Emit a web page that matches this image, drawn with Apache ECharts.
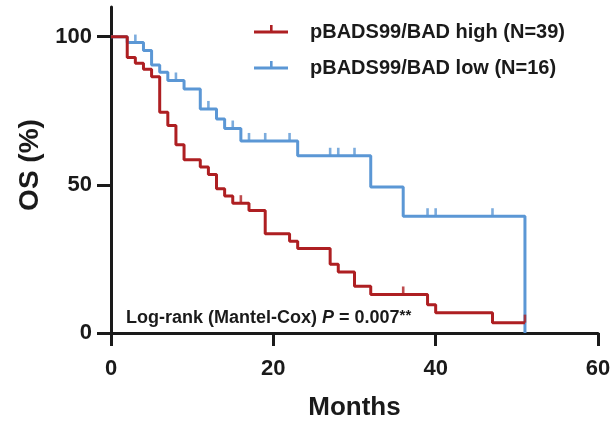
<!DOCTYPE html>
<html>
<head>
<meta charset="utf-8">
<script src="https://cdn.jsdelivr.net/npm/echarts@6/dist/echarts.min.js"></script>
<style>
html,body{margin:0;padding:0;background:#fff;}
#chart{width:613px;height:421px;}
</style>
</head>
<body>
<div id="chart"></div>
<script>
// ---- data ----
var highTimes = [0, 2, 3, 4, 5, 6, 7, 8, 9, 11, 12, 13, 14, 15, 17, 19, 22, 23, 27, 28, 30, 32, 39, 40, 47, 51];
var highSurv  = [100, 93, 91, 89, 86.5, 74.5, 70, 63.5, 58.5, 56, 53.5, 48.7, 46.2, 43.8, 41.3, 33.5, 31, 28.5, 23.2, 20.6, 15.8, 13, 9.5, 6.8, 3.5, 3.5];
var highCensorTimes = [16, 36, 51];
var highCensorSurv  = [43.8, 13, 3.5];

var lowTimes = [0, 2, 4, 5, 6, 7, 9, 11, 13, 14, 16, 23, 32, 36, 51];
var lowSurv  = [100, 98, 95.3, 90.4, 88, 85.2, 82.3, 75.6, 72.2, 69, 64.8, 59.8, 49.3, 39.4, 0];
var lowCensorTimes = [3, 8, 12, 15, 17, 19, 22, 27, 28, 30, 39, 40, 47];
var lowCensorSurv  = [98, 85.2, 75.6, 69, 64.8, 64.8, 64.8, 59.8, 59.8, 59.8, 39.4, 39.4, 39.4];

var xTicks = [0, 20, 40, 60];
var yTicks = [0, 50, 100];

var seriesNames = ['pBADS99/BAD high (N=39)', 'pBADS99/BAD low (N=16)'];
var colors = ['#AE1F22', '#5B97D5'];

function pairs(a, b) { return a.map(function (v, i) { return [v, b[i]]; }); }

var FONT = "'Liberation Sans', Arial, Helvetica, sans-serif";
var INK = '#1a1a1a';

var chart = echarts.init(document.getElementById('chart'));

function censorSeries(name, t, s, color) {
  return {
    name: name, type: 'scatter', data: pairs(t, s),
    symbol: 'rect', symbolSize: [2.6, 8], symbolOffset: [0, -4],
    itemStyle: { color: color }, silent: true, z: 3
  };
}

function legendItem(y, color, text) {
  return {
    type: 'group', children: [
      { type: 'rect', shape: { x: 254, y: y - 1.5, width: 34, height: 3 }, style: { fill: color } },
      { type: 'rect', shape: { x: 270, y: y - 7, width: 2.6, height: 7 }, style: { fill: color } },
      { type: 'text', x: 310, y: y, style: { text: text, font: 'bold 20px ' + FONT, fill: INK, textVerticalAlign: 'middle' } }
    ]
  };
}

chart.setOption({
  animation: false,
  backgroundColor: '#fff',
  grid: { left: 111, right: 15, top: 7, bottom: 88, containLabel: false, outerBoundsMode: 'none' },
  xAxis: {
    type: 'value', min: 0, max: 60, interval: 20,
    name: 'Months', nameLocation: 'middle', nameGap: 62,
    nameTextStyle: { fontSize: 26, fontWeight: 'bold', color: INK, fontFamily: FONT },
    axisLine: { lineStyle: { color: INK, width: 3 } },
    axisTick: { length: 13, lineStyle: { color: INK, width: 3 } },
    axisLabel: { fontSize: 22, fontWeight: 'bold', color: INK, fontFamily: FONT, margin: 25,
      customValues: xTicks },
    splitLine: { show: false }
  },
  yAxis: {
    type: 'value', min: 0, max: 110,
    name: 'OS (%)', nameLocation: 'middle', nameGap: 66,
    nameTextStyle: { fontSize: 28, fontWeight: 'bold', color: INK, fontFamily: FONT, padding: [0, 0, 0, 10] },
    axisLine: { show: true, lineStyle: { color: INK, width: 3 } },
    axisTick: { show: true, length: 14, lineStyle: { color: INK, width: 3 }, customValues: yTicks },
    axisLabel: { fontSize: 22, fontWeight: 'bold', color: INK, fontFamily: FONT, margin: 19,
      customValues: yTicks },
    splitLine: { show: false }
  },
  series: [
    { name: seriesNames[1], type: 'line', step: 'end', data: pairs(lowTimes, lowSurv),
      showSymbol: false, lineStyle: { color: colors[1], width: 3 }, itemStyle: { color: colors[1] }, z: 2 },
    censorSeries(seriesNames[1], lowCensorTimes, lowCensorSurv, colors[1]),
    { name: seriesNames[0], type: 'line', step: 'end', data: pairs(highTimes, highSurv),
      showSymbol: false, lineStyle: { color: colors[0], width: 3 }, itemStyle: { color: colors[0] }, z: 4 },
    censorSeries(seriesNames[0], highCensorTimes, highCensorSurv, colors[0])
  ],
  graphic: [
    legendItem(32, colors[0], seriesNames[0]),
    legendItem(68, colors[1], seriesNames[1]),
    {
      type: 'text', x: 126, y: 318,
      style: {
        text: '{a|Log-rank (Mantel-Cox) }{p|P}{a| = 0.007}{s|**}',
        textVerticalAlign: 'middle', fill: INK,
        rich: {
          a: { font: 'bold 18px ' + FONT, fill: INK },
          p: { font: 'italic bold 18px ' + FONT, fill: INK },
          s: { font: 'bold 15px ' + FONT, fill: INK, verticalAlign: 'top', padding: [0, 0, 4, 0] }
        }
      }
    }
  ]
});
</script>
</body>
</html>
